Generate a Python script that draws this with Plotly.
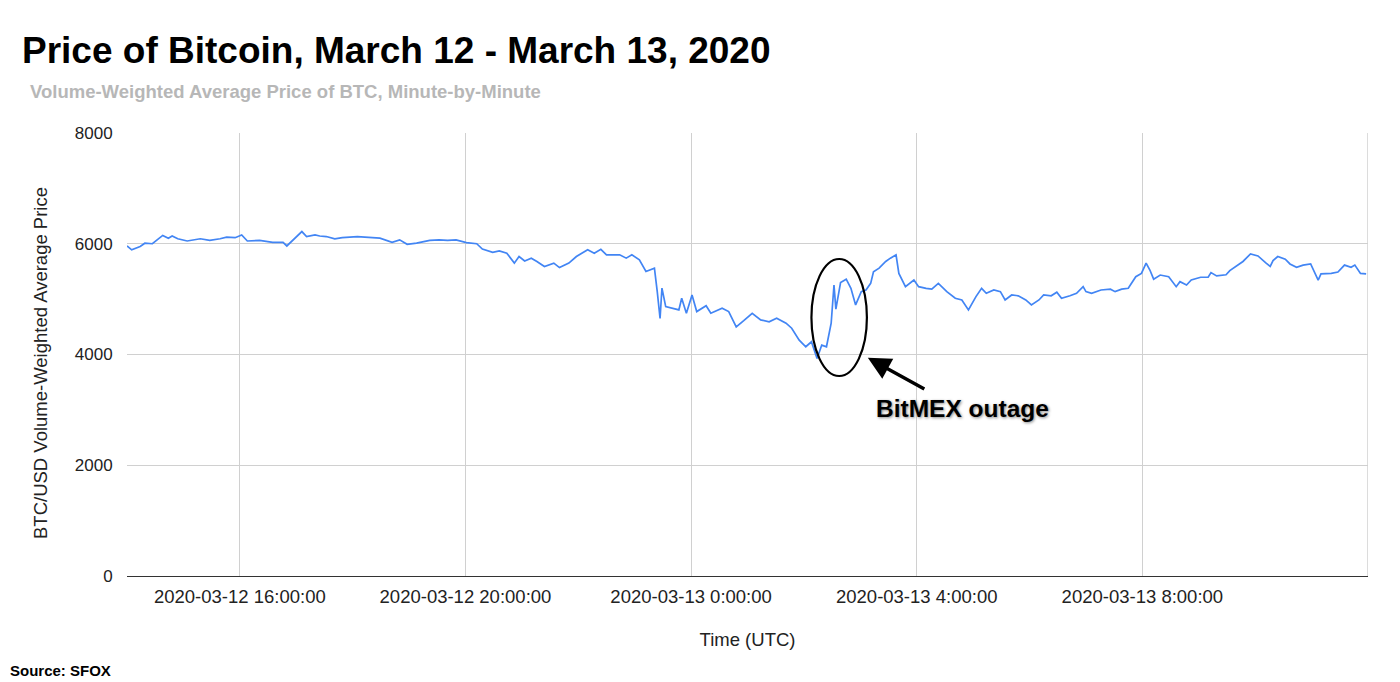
import plotly.graph_objects as go

times = [
    "2020-03-12 14:00", "2020-03-12 14:05", "2020-03-12 14:14", "2020-03-12 14:19", "2020-03-12 14:27",
    "2020-03-12 14:32", "2020-03-12 14:38", "2020-03-12 14:44", "2020-03-12 14:48", "2020-03-12 14:54",
    "2020-03-12 15:04", "2020-03-12 15:18", "2020-03-12 15:28", "2020-03-12 15:39", "2020-03-12 15:46",
    "2020-03-12 15:55", "2020-03-12 16:02", "2020-03-12 16:08", "2020-03-12 16:21", "2020-03-12 16:35",
    "2020-03-12 16:46", "2020-03-12 16:50", "2020-03-12 16:56", "2020-03-12 17:06", "2020-03-12 17:11",
    "2020-03-12 17:20", "2020-03-12 17:25", "2020-03-12 17:32", "2020-03-12 17:41", "2020-03-12 17:49",
    "2020-03-12 18:05", "2020-03-12 18:29", "2020-03-12 18:42", "2020-03-12 18:50", "2020-03-12 18:58",
    "2020-03-12 19:08", "2020-03-12 19:22", "2020-03-12 19:32", "2020-03-12 19:41", "2020-03-12 19:50",
    "2020-03-12 20:01", "2020-03-12 20:12", "2020-03-12 20:18", "2020-03-12 20:29", "2020-03-12 20:36",
    "2020-03-12 20:44", "2020-03-12 20:52", "2020-03-12 20:57", "2020-03-12 21:03", "2020-03-12 21:10",
    "2020-03-12 21:16", "2020-03-12 21:24", "2020-03-12 21:34", "2020-03-12 21:40", "2020-03-12 21:50",
    "2020-03-12 21:58", "2020-03-12 22:10", "2020-03-12 22:17", "2020-03-12 22:24", "2020-03-12 22:30",
    "2020-03-12 22:44", "2020-03-12 22:51", "2020-03-12 22:57", "2020-03-12 23:05", "2020-03-12 23:12",
    "2020-03-12 23:21", "2020-03-12 23:24", "2020-03-12 23:27", "2020-03-12 23:29", "2020-03-12 23:33",
    "2020-03-12 23:47", "2020-03-12 23:50", "2020-03-12 23:55", "2020-03-13 00:01", "2020-03-13 00:06",
    "2020-03-13 00:16", "2020-03-13 00:21", "2020-03-13 00:33", "2020-03-13 00:40", "2020-03-13 00:48",
    "2020-03-13 00:56", "2020-03-13 01:05", "2020-03-13 01:14", "2020-03-13 01:23", "2020-03-13 01:31",
    "2020-03-13 01:41", "2020-03-13 01:47", "2020-03-13 01:55", "2020-03-13 02:02", "2020-03-13 02:08",
    "2020-03-13 02:14", "2020-03-13 02:19", "2020-03-13 02:24", "2020-03-13 02:29", "2020-03-13 02:32",
    "2020-03-13 02:34", "2020-03-13 02:39", "2020-03-13 02:45", "2020-03-13 02:50", "2020-03-13 02:55",
    "2020-03-13 03:01", "2020-03-13 03:06", "2020-03-13 03:11", "2020-03-13 03:14", "2020-03-13 03:20",
    "2020-03-13 03:27", "2020-03-13 03:32", "2020-03-13 03:38", "2020-03-13 03:41", "2020-03-13 03:48",
    "2020-03-13 03:57", "2020-03-13 04:02", "2020-03-13 04:10", "2020-03-13 04:16", "2020-03-13 04:23",
    "2020-03-13 04:32", "2020-03-13 04:41", "2020-03-13 04:48", "2020-03-13 04:55", "2020-03-13 05:03",
    "2020-03-13 05:09", "2020-03-13 05:14", "2020-03-13 05:22", "2020-03-13 05:29", "2020-03-13 05:34",
    "2020-03-13 05:41", "2020-03-13 05:48", "2020-03-13 05:56", "2020-03-13 06:02", "2020-03-13 06:10",
    "2020-03-13 06:15", "2020-03-13 06:23", "2020-03-13 06:29", "2020-03-13 06:34", "2020-03-13 06:43",
    "2020-03-13 06:50", "2020-03-13 06:57", "2020-03-13 07:00", "2020-03-13 07:06", "2020-03-13 07:16",
    "2020-03-13 07:26", "2020-03-13 07:31", "2020-03-13 07:38", "2020-03-13 07:45", "2020-03-13 07:53",
    "2020-03-13 07:59", "2020-03-13 08:04", "2020-03-13 08:08", "2020-03-13 08:12", "2020-03-13 08:19",
    "2020-03-13 08:28", "2020-03-13 08:36", "2020-03-13 08:40", "2020-03-13 08:47", "2020-03-13 08:52",
    "2020-03-13 09:02", "2020-03-13 09:10", "2020-03-13 09:13", "2020-03-13 09:19", "2020-03-13 09:29",
    "2020-03-13 09:33", "2020-03-13 09:42", "2020-03-13 09:47", "2020-03-13 09:55", "2020-03-13 10:03",
    "2020-03-13 10:11", "2020-03-13 10:16", "2020-03-13 10:19", "2020-03-13 10:24", "2020-03-13 10:32",
    "2020-03-13 10:37", "2020-03-13 10:44", "2020-03-13 10:51", "2020-03-13 10:59", "2020-03-13 11:07",
    "2020-03-13 11:10", "2020-03-13 11:21", "2020-03-13 11:28", "2020-03-13 11:35", "2020-03-13 11:42",
    "2020-03-13 11:46", "2020-03-13 11:52", "2020-03-13 11:58",
]

prices = [
    5960, 5890, 5950, 6010, 6000,
    6070, 6150, 6100, 6140, 6090,
    6050, 6090, 6060, 6090, 6120,
    6110, 6160, 6050, 6060, 6025,
    6025, 5960, 6060, 6220, 6130,
    6160, 6140, 6130, 6090, 6110,
    6130, 6100, 6025, 6070, 5990,
    6010, 6060, 6070, 6060, 6070,
    6020, 6000, 5905, 5845, 5870,
    5830, 5650, 5770, 5690, 5740,
    5680, 5590, 5650, 5570, 5650,
    5770, 5890, 5830, 5900, 5800,
    5800, 5740, 5800, 5710, 5500,
    5560, 5135, 4650, 5200, 4865,
    4805, 5015, 4745, 5075, 4775,
    4880, 4745, 4835, 4775, 4500,
    4610, 4745, 4625, 4590, 4655,
    4565, 4475, 4260, 4140, 4230,
    3930, 4170, 4140, 4565, 5255,
    4820, 5300, 5360, 5195, 4895,
    5135, 5165, 5285, 5495, 5560,
    5680, 5740, 5800, 5465, 5225,
    5345, 5225, 5195, 5180, 5285,
    5135, 5015, 4985, 4805, 5045,
    5195, 5105, 5165, 5135, 4985,
    5075, 5060, 4985, 4895, 4985,
    5075, 5060, 5125, 5015, 5060,
    5105, 5225, 5135, 5105, 5165,
    5180, 5135, 5180, 5195, 5405,
    5465, 5650, 5525, 5360, 5435,
    5405, 5225, 5315, 5255, 5345,
    5395, 5395, 5480, 5420, 5440,
    5515, 5615, 5680, 5815, 5780,
    5660, 5590, 5695, 5770, 5720,
    5635, 5575, 5615, 5635, 5345,
    5455, 5465, 5490, 5615, 5575,
    5615, 5465, 5455,
]

tick_vals = ["2020-03-12 16:00", "2020-03-12 20:00", "2020-03-13 00:00",
             "2020-03-13 04:00", "2020-03-13 08:00"]
tick_text = ["2020-03-12 16:00:00", "2020-03-12 20:00:00", "2020-03-13 0:00:00",
             "2020-03-13 4:00:00", "2020-03-13 8:00:00"]
y_ticks = [0, 2000, 4000, 6000, 8000]
x_start, x_end = "2020-03-12 14:00", "2020-03-13 12:00"

FONT = "Liberation Sans, Arial, sans-serif"
GRID = "#d0d0d0"
TXT = "#222222"

# page body has an 8px margin; size the figure so the plot lands where the reference has it
W, H = 1392, 674

fig = go.Figure()
fig.add_trace(go.Scatter(
    x=times, y=prices, mode="lines",
    line=dict(color="#4285f4", width=1.7),
    hoverinfo="x+y", showlegend=False,
))

fig.update_layout(
    width=W, height=H,
    paper_bgcolor="white", plot_bgcolor="white",
    margin=dict(l=119, r=32, t=125, b=106, autoexpand=False),
    font=dict(family=FONT, size=16, color=TXT),
    title=dict(
        text="<b>Price of Bitcoin, March 12 - March 13, 2020</b>",
        xref="container", yref="container",
        x=14 / W, xanchor="left",
        y=1 - 42 / H, yanchor="middle",
        font=dict(family=FONT, size=37, color="black"),
    ),
    xaxis=dict(
        type="date", automargin=False,
        range=[x_start, x_end],
        tickmode="array", tickvals=tick_vals, ticktext=tick_text,
        showgrid=True, gridcolor=GRID, gridwidth=1,
        showline=True, linecolor="#333333", linewidth=1,
        ticks="outside", ticklen=4, tickcolor="rgba(0,0,0,0)",
        tickfont=dict(family=FONT, size=18.5, color=TXT),
        title=dict(text="Time (UTC)", font=dict(family=FONT, size=18.5, color=TXT), standoff=26),
        zeroline=False,
    ),
    yaxis=dict(
        range=[0, 8000], automargin=False,
        tickmode="array", tickvals=y_ticks, ticktext=[str(v) for v in y_ticks],
        showgrid=True, gridcolor=GRID, gridwidth=1,
        zeroline=False,
        ticks="outside", ticklen=10, tickcolor="rgba(0,0,0,0)",
        tickfont=dict(family=FONT, size=17, color=TXT),
    ),
)

# y-axis title (placed slightly below the plot centre, as in the reference)
fig.add_annotation(
    xref="paper", yref="paper", x=(40 - 127) / 1241, y=(576 - 363) / 443,
    xanchor="center", yanchor="middle", textangle=-90, showarrow=False,
    text="BTC/USD Volume-Weighted Average Price",
    font=dict(family=FONT, size=18.5, color=TXT),
)

# right-edge grid line
fig.add_shape(
    type="line", xref="x", yref="paper", x0=x_end, x1=x_end, y0=0, y1=1,
    line=dict(color=GRID, width=1.5), layer="below",
)

fig.add_annotation(
    xref="paper", yref="paper", x=(28 - 127) / 1241, y=(576 - 91) / 443,
    xanchor="left", yanchor="middle", showarrow=False,
    text="<b>Volume-Weighted Average Price of BTC, Minute-by-Minute</b>",
    font=dict(family=FONT, size=18.5, color="#b7b7b7"),
)
fig.add_annotation(
    xref="paper", yref="paper", x=(8 - 127) / 1241, y=(576 - 670) / 443,
    xanchor="left", yanchor="middle", showarrow=False,
    text="<b>Source: SFOX</b>",
    font=dict(family=FONT, size=15, color="black"),
)

# BitMEX outage callout
fig.add_shape(
    type="circle", xref="x", yref="y",
    x0="2020-03-13 02:08", x1="2020-03-13 03:07", y0=3612, y1=5725,
    line=dict(color="black", width=2.2),
)
fig.add_annotation(
    x="2020-03-13 03:08", y=3940, xref="x", yref="y",
    ax=58, ay=32, axref="pixel", ayref="pixel",
    text="", showarrow=True, arrowhead=2, arrowsize=1.3, arrowwidth=3.5,
    arrowcolor="black",
)
fig.add_annotation(
    x="2020-03-13 04:49", y=3016, xref="x", yref="y",
    text="<b>BitMEX outage</b>", showarrow=False,
    font=dict(family=FONT, size=24.5, color="black", shadow="1px 1px 3px #888888"),
)

fig.write_html("out.html")
